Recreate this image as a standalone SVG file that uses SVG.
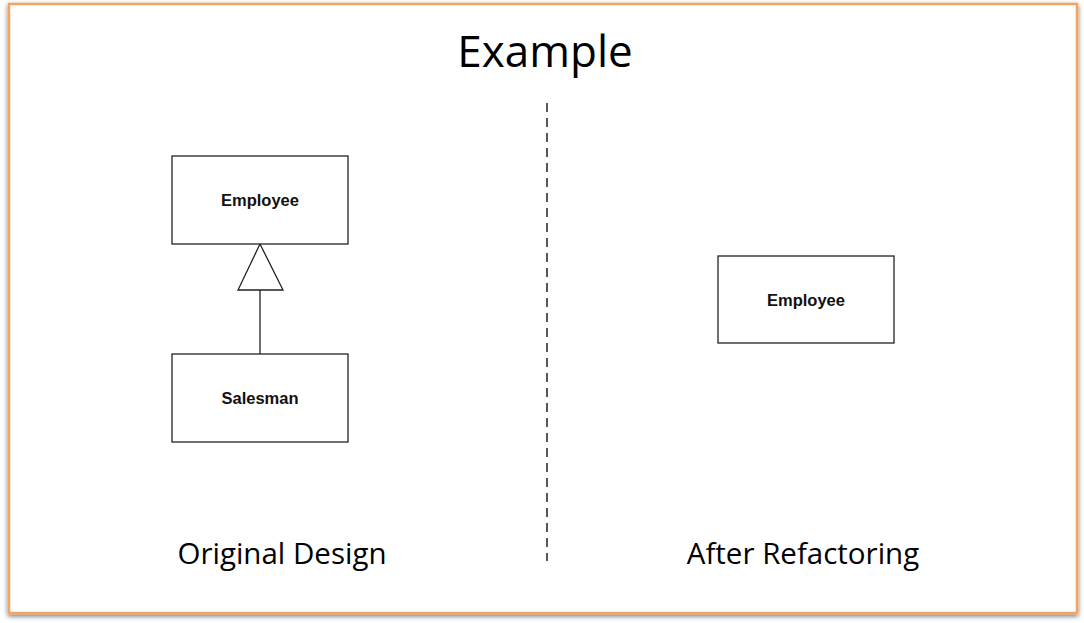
<svg xmlns="http://www.w3.org/2000/svg" width="1084" height="623" viewBox="0 0 1084 623">
<defs>
<filter id="sh" x="-5%" y="-5%" width="110%" height="110%">
<feGaussianBlur in="SourceAlpha" stdDeviation="2.5"/>
<feOffset dx="0" dy="2"/>
<feComponentTransfer><feFuncA type="linear" slope="0.55"/></feComponentTransfer>
<feMerge><feMergeNode/><feMergeNode in="SourceGraphic"/></feMerge>
</filter>
</defs>
<style>
.box{fill:#fff;stroke:#222;stroke-width:1.3}
.lbl{font-family:"Liberation Sans",Arial,sans-serif;font-weight:bold;font-size:16.5px;fill:#111;text-anchor:middle}
.cap{font-family:"Open Sans","Liberation Sans",sans-serif;font-size:29.5px;fill:#000;text-anchor:middle}
.ln{stroke:#222;stroke-width:1.3;fill:none}
</style>
<rect width="1084" height="623" fill="#fff"/>
<rect x="9" y="4" width="1068" height="609" fill="#fff" stroke="#f4a460" stroke-width="2.5" filter="url(#sh)"/>
<text x="545" y="67" font-family="'Open Sans','Liberation Sans',sans-serif" font-size="44" text-anchor="middle" fill="#000">Example</text>
<line x1="547" y1="103" x2="547" y2="561" stroke="#222" stroke-width="1.5" stroke-dasharray="9,6"/>
<g id="connectors">
<line class="ln" x1="260" y1="290" x2="260" y2="354"/>
<polygon class="ln" points="260,244 283,290 238,290" fill="#fff"/>
</g>
<g id="employee-left">
<rect class="box" x="172" y="156" width="176" height="88"/>
<text class="lbl" x="260" y="206">Employee</text>
</g>
<g id="salesman">
<rect class="box" x="172" y="354" width="176" height="88"/>
<text class="lbl" x="260" y="404">Salesman</text>
</g>
<g id="employee-right">
<rect class="box" x="718" y="256" width="176" height="87"/>
<text class="lbl" x="806" y="306">Employee</text>
</g>
<text class="cap" x="282" y="564">Original Design</text>
<text class="cap" x="803" y="564">After Refactoring</text>
</svg>
